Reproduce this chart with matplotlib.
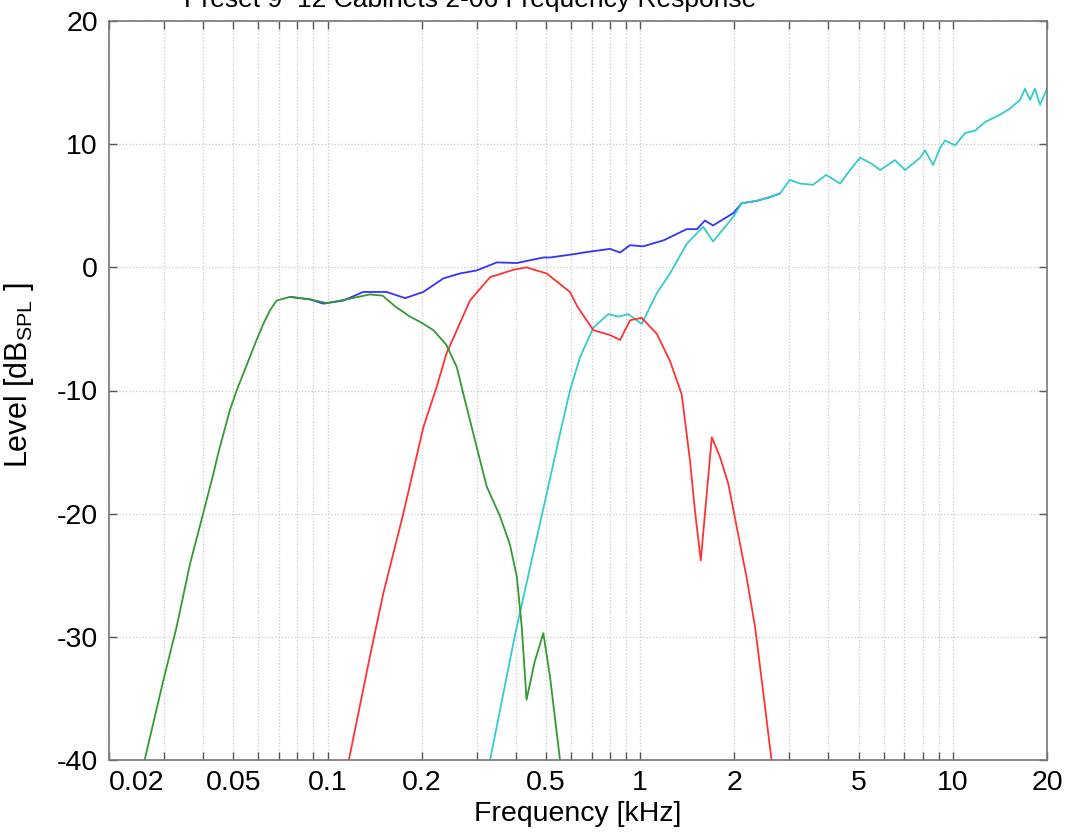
import matplotlib
matplotlib.use("Agg")
import matplotlib.pyplot as plt
from matplotlib.ticker import FixedLocator, NullFormatter, FixedFormatter

plt.rcParams['font.family'] = ['Liberation Sans', 'DejaVu Sans']
plt.rcParams['mathtext.fontset'] = 'custom'
plt.rcParams['mathtext.rm'] = 'Liberation Sans'
plt.rcParams['axes.unicode_minus'] = False

# values (frequency in kHz, level in dB SPL)
green_f = [0.026, 0.0298, 0.0329, 0.0363, 0.040, 0.0431, 0.0447, 0.0487, 0.0512,
           0.0593, 0.0623, 0.0654, 0.0687, 0.0758, 0.0878, 0.0993, 0.1151, 0.1366,
           0.15, 0.165, 0.1835, 0.2, 0.218, 0.240, 0.259, 0.272, 0.300, 0.323,
           0.356, 0.383, 0.403, 0.418, 0.433, 0.46, 0.490, 0.515, 0.554]
green_db = [-40, -33.6, -29.2, -24.1, -20.0, -16.8, -15.1, -11.6, -10.0,
            -5.9, -4.6, -3.5, -2.7, -2.4, -2.6, -2.9, -2.6, -2.2,
            -2.3, -3.2, -4.0, -4.5, -5.1, -6.3, -8.1, -10.3, -14.6, -17.8,
            -20.2, -22.5, -25.1, -29.2, -35.1, -32.0, -29.7, -33.3, -40]

red_f = [0.117, 0.1366, 0.1507, 0.1747, 0.2024, 0.2234, 0.240, 0.2854, 0.331,
         0.393, 0.433, 0.502, 0.596, 0.63, 0.708, 0.801, 0.862, 0.928, 1.011,
         1.13, 1.245, 1.357, 1.443, 1.497, 1.562, 1.632, 1.694, 1.80, 1.914,
         2.036, 2.19, 2.33, 2.48, 2.63]
red_db = [-40, -31.6, -26.5, -20.0, -13.0, -9.7, -7.0, -2.7, -0.8,
          -0.2, 0.0, -0.5, -2.0, -3.2, -5.1, -5.5, -5.9, -4.3, -4.1,
          -5.4, -7.6, -10.3, -15.7, -19.8, -23.8, -18.4, -13.8, -15.4, -17.6,
          -21.1, -25.2, -29.2, -34.7, -40]

cyan_f = [0.331, 0.398, 0.444, 0.502, 0.554, 0.596, 0.642, 0.708, 0.790, 0.851,
          0.916, 1.011, 1.13, 1.245, 1.408, 1.59, 1.71, 1.985, 2.11, 2.36, 2.60,
          2.80, 3.01, 3.25, 3.57, 3.93, 4.36, 4.69, 5.05, 5.51, 5.85, 6.53, 7.03,
          7.86, 8.15, 8.64, 9.1, 9.44, 10.16, 10.94, 11.78, 12.68, 14.16, 15.24,
          16.4, 17.0, 17.66, 18.3, 19.0, 20.0]
cyan_db = [-40, -29.8, -24.4, -18.4, -13.5, -10.0, -7.3, -4.9, -3.8, -4.0,
           -3.8, -4.6, -2.1, -0.5, 1.9, 3.3, 2.1, 4.1, 5.2, 5.4, 5.7,
           6.0, 7.1, 6.8, 6.7, 7.5, 6.8, 7.9, 8.9, 8.4, 7.9, 8.7, 7.9,
           8.9, 9.5, 8.3, 9.7, 10.3, 9.9, 10.9, 11.1, 11.8, 12.4, 12.9,
           13.6, 14.5, 13.6, 14.5, 13.2, 14.5]

blue_f = [0.0758, 0.0878, 0.0969, 0.1123, 0.130, 0.1545, 0.177, 0.2024, 0.2346,
          0.265, 0.300, 0.348, 0.403, 0.490, 0.515, 0.626, 0.658, 0.801, 0.862,
          0.928, 1.02, 1.19, 1.408, 1.52, 1.61, 1.71, 1.985, 2.11, 2.36, 2.60, 2.80]
blue_db = [-2.4, -2.6, -2.95, -2.7, -2.0, -2.0, -2.5, -2.0, -0.9,
           -0.5, -0.25, 0.4, 0.35, 0.8, 0.8, 1.1, 1.2, 1.5, 1.2,
           1.8, 1.7, 2.2, 3.1, 3.1, 3.8, 3.4, 4.4, 5.2, 5.4, 5.7, 6.0]

xticks = [0.02, 0.05, 0.1, 0.2, 0.5, 1, 2, 5, 10, 20]
xticklabels = ['0.02', '0.05', '0.1', '0.2', '0.5', '1', '2', '5', '10', '20']
yticks = [-40, -30, -20, -10, 0, 10, 20]

title = 'Preset 9  12 Cabinets 2-06 Frequency Response'

fig = plt.figure(figsize=(10.72, 8.36), dpi=100)
ax = fig.add_axes([109 / 1072, 1 - 760 / 836, 938 / 1072, 739 / 836])

ax.plot(blue_f, blue_db, color='#3333ff', lw=1.3)
ax.plot(cyan_f, cyan_db, color='#33cccc', lw=1.3)
ax.plot(red_f, red_db, color='#ff3333', lw=1.3)
ax.plot(green_f, green_db, color='#339933', lw=1.3)

ax.set_xscale('log')
ax.set_xlim(0.02, 20)
ax.set_ylim(-40, 20)

minors = []
for dec in [0.01, 0.1, 1, 10]:
    for k in range(2, 10):
        v = round(dec * k, 4)
        if 0.02 <= v <= 20 and v not in xticks:
            minors.append(v)
ax.xaxis.set_major_locator(FixedLocator(xticks))
ax.xaxis.set_major_formatter(FixedFormatter(xticklabels))
ax.xaxis.set_minor_locator(FixedLocator(minors))
ax.xaxis.set_minor_formatter(NullFormatter())
ax.set_yticks(yticks)

ax.grid(True, which='both', axis='x', color='#c8c8c8', linestyle=':', lw=0.9)
ax.grid(True, which='major', axis='y', color='#c8c8c8', linestyle=':', lw=0.9)

ax.tick_params(which='both', direction='in', top=True, right=True,
               length=6, width=1, color='#555555', labelsize=20.5)
ax.tick_params(axis='x', pad=7)
ax.tick_params(axis='y', pad=8)
ax.get_xticklabels()[0].set_horizontalalignment('left')
ax.get_xticklabels()[0].set_x(0.0195)

for s in ax.spines.values():
    s.set_color('#777777')
    s.set_linewidth(1.2)

ax.set_xlabel('Frequency [kHz]', fontsize=20.5, labelpad=4)
ax.set_ylabel('Level [dB$_{\\mathrm{SPL}}$ ]', fontsize=22)
ax.yaxis.set_label_coords(-0.078, 0.52)

fig.text(470 / 1072, 1 - 7 / 836, title, fontsize=19, ha='center', va='baseline')

fig.savefig('out.png', dpi=100)
